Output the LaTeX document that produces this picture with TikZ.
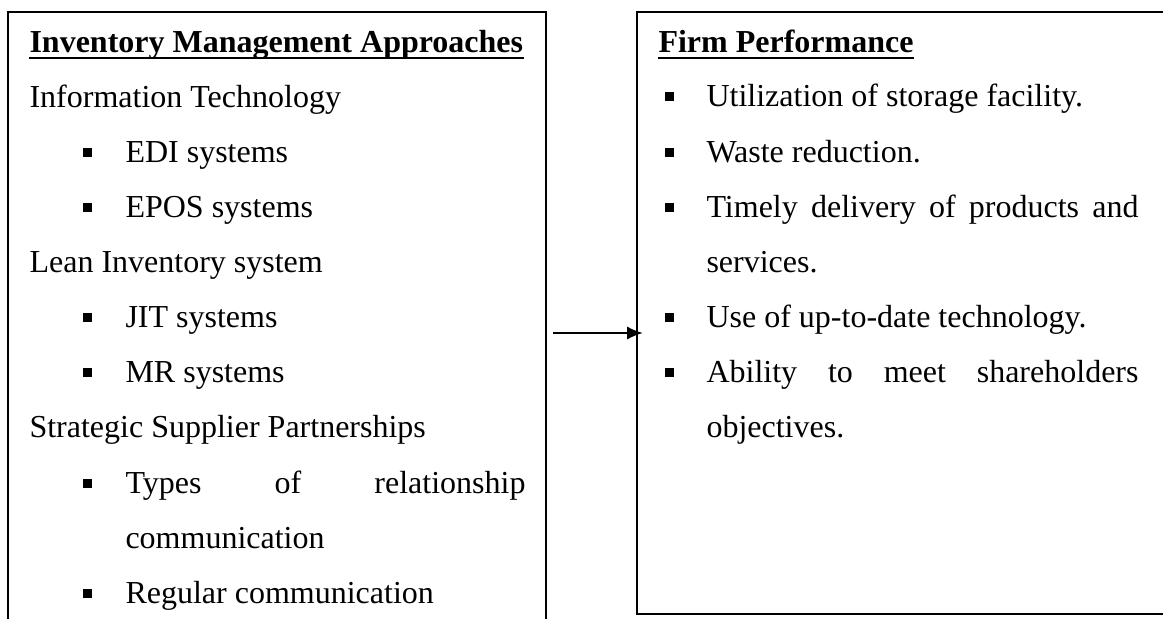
\documentclass[tikz,border=0pt]{standalone}
\usepackage{fontspec}
\setmainfont{Liberation Serif}
\usetikzlibrary{arrows.meta}

% small filled square used as list mark
\newcommand{\sqmark}{\rule[1.8pt]{3.4pt}{3.4pt}}

\tikzset{
  panel/.style={draw, line width=0.75pt},
  line/.style={anchor=base west, inner sep=0pt, font=\fontsize{12pt}{14pt}\selectfont},
  head/.style={line, font=\fontsize{12pt}{14pt}\selectfont\bfseries},
  uline/.style={line width=1pt},
  flow/.style={-{Latex[length=6pt,width=5pt]}, line width=0.8pt}
}

\begin{document}
\begin{tikzpicture}[x=0.375pt,y=-0.375pt]
\useasboundingbox (0,0) rectangle (1163,619);
% the two panels
\draw[panel] (8,12) rectangle (546,660);
\draw[panel] (637,12) rectangle (1170,614);

% left panel: approaches
\node[head] (apph) at (29,52) {Inventory Management Approaches};
\draw[uline] ([yshift=-2.3pt]apph.base west) -- ([yshift=-2.3pt]apph.base east);
\node[line] (it) at (29,107) {Information Technology};
\node[line] (lean) at (29,272) {Lean Inventory system};
\node[line] (ssp) at (29,437) {Strategic Supplier Partnerships};
\foreach \y/\name/\txt in {162/edi/EDI systems, 217/epos/EPOS systems,
    327/jit/JIT systems, 382/mr/MR systems, 603/reg/Regular communication} {
  \node[line] (\name-b) at (82,\y) {\sqmark};
  \node[line] (\name) at (125,\y) {\txt};
}
\node[line] (types-b) at (82,493) {\sqmark};
\node[line] (types) at (125,493) {\makebox[150pt][s]{Types of relationship}};
\node[line] (comm) at (125,548) {communication};

% right panel: performance
\node[head] (perfh) at (658,52) {Firm Performance};
\draw[uline] ([yshift=-2.3pt]perfh.base west) -- ([yshift=-2.3pt]perfh.base east);
\foreach \y/\name/\txt in {106/util/Utilization of storage facility.,
    162/waste/Waste reduction., 327/tech/Use of up-to-date technology.} {
  \node[line] (\name-b) at (664,\y) {\sqmark};
  \node[line] (\name) at (706,\y) {\txt};
}
\node[line] (time-b) at (664,217) {\sqmark};
\node[line] (time) at (706,217) {\makebox[162pt][s]{Timely delivery of products and}};
\node[line] (serv) at (706,272) {services.};
\node[line] (abil-b) at (664,382) {\sqmark};
\node[line] (abil) at (706,382) {\makebox[162pt][s]{Ability to meet shareholders}};
\node[line] (obj) at (706,437) {objectives.};

% link between the panels
\coordinate (tail) at (553,333);
\coordinate (tip) at (643,333);
\draw[flow] (tail) -- (tip);
\end{tikzpicture}
\end{document}
